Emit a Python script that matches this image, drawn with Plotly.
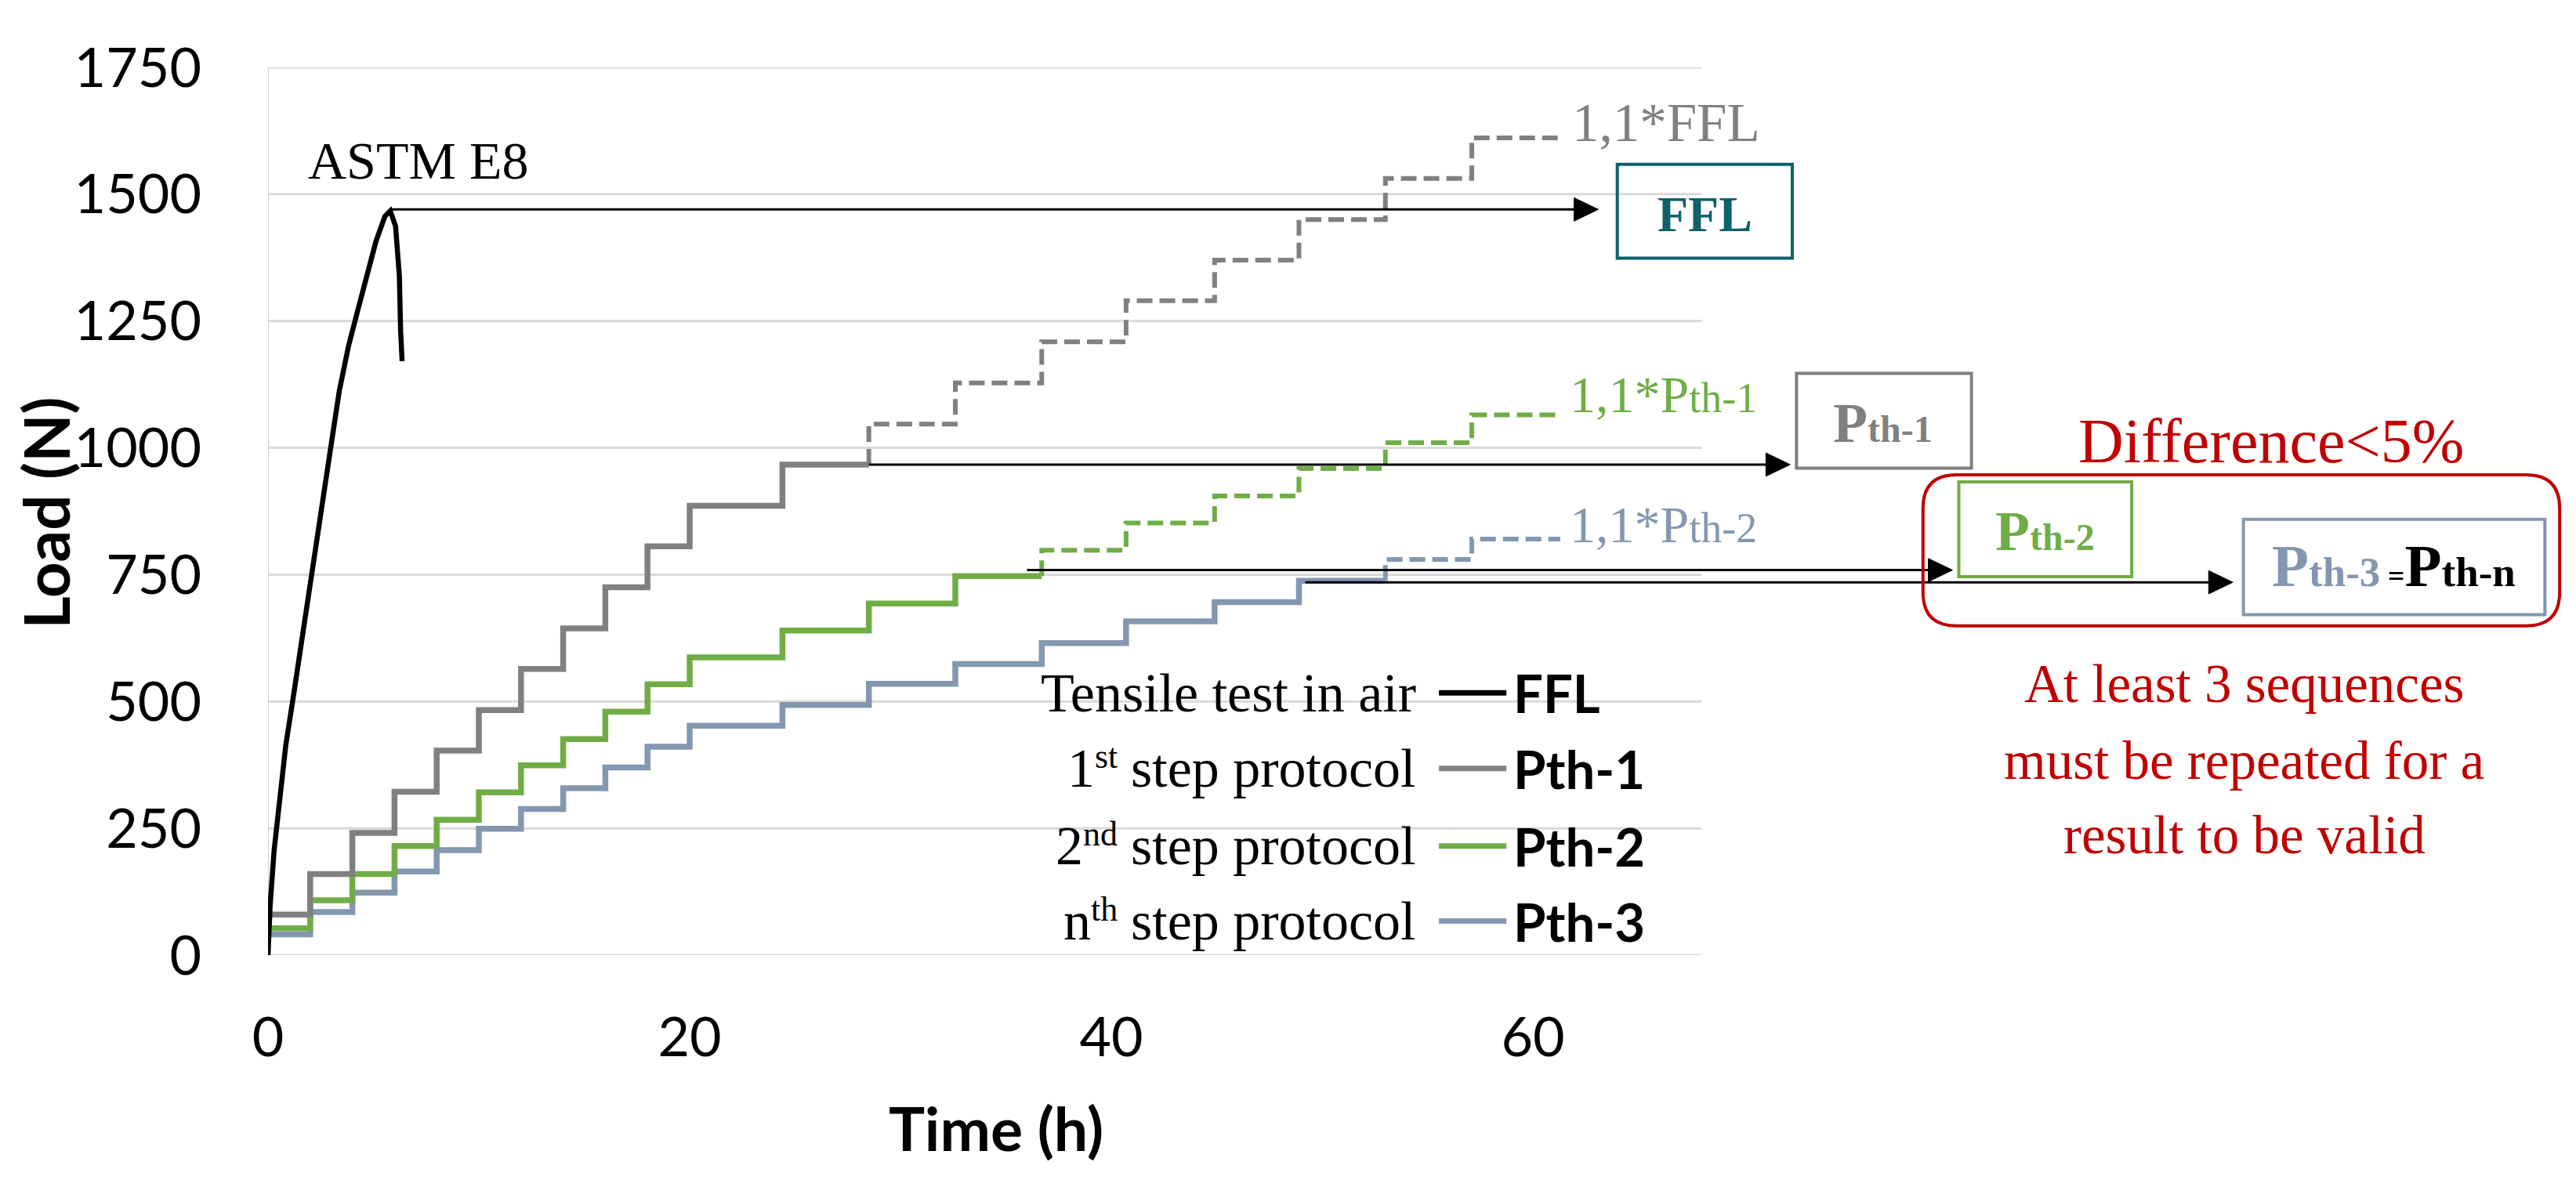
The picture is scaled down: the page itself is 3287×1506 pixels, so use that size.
import plotly.graph_objects as go

# ---------------- data ----------------
step_times = [0, 2, 4, 6, 8, 10, 12, 14, 16, 18, 20, 24.4, 28.5, 32.6, 36.7, 40.7, 44.9, 48.9, 53.0, 57.1]
step_end = 61.3

pth1_levels = [80, 160, 241, 322, 403, 483, 564, 644, 725, 806, 886, 967,
               1047, 1128, 1209, 1290, 1370, 1450, 1531, 1611]
pth2_levels = [53, 108, 160, 215, 267, 321, 374, 426, 480, 534, 587, 640,
               693, 747, 798, 852, 905, 959, 1010, 1065]
pth3_levels = [41, 85, 123, 165, 207, 249, 288, 329, 370, 411, 452, 493,
               535, 574, 615, 658, 696, 738, 780, 820]
pth1_solid_n = 12
pth2_solid_n = 14
pth3_solid_n = 18

astm_time = [0, 0.1, 0.29, 0.53, 0.84, 1.21, 1.65, 2.08, 2.52, 2.95, 3.38, 3.82,
             4.25, 4.68, 5.12, 5.55, 5.8, 6.05, 6.23, 6.29, 6.36]
astm_load = [0, 98, 207, 305, 413, 512, 630, 748, 866, 994, 1112, 1201,
             1270, 1339, 1407, 1457, 1467, 1437, 1339, 1230, 1171]

y_ticks = [0, 250, 500, 750, 1000, 1250, 1500, 1750]
x_ticks = [0, 20, 40, 60]

legend_names = ["FFL", "Pth-1", "Pth-2", "Pth-3"]
legend_prefix = ["1", "2", "n"]          # ordinal number of the step rows
legend_suffix = ["st", "nd", "th"]       # superscript ordinal suffix
legend_suffix_em = [0.667, 1.0, 0.778]   # Times-metric widths of the suffixes

# arrows: (tail time, tip time, load level)
arrow_tail = [5.8, 28.5, 36.0, 49.2]
arrow_tip = [63.1, 72.2, 79.9, 93.2]
arrow_load = [1470, 967, 759, 735]

# ---------------- styles ----------------
C_BLACK = "#000000"
C_GRAY = "#808080"
C_GREEN = "#70AD47"
C_BLUE = "#8497B0"
C_TEAL = "#0E6168"
C_RED = "#C00000"
SERIF = "Liberation Serif"
SANS = "Lato"

X_MAX = 109.14      # extended range so the side boxes live in data space
GRID_END = 68.0     # visible chart area ends here
PX_PER_H = 26.9     # horizontal scale of the plot (px per hour)
HEAD_LEN = 1.15     # arrow head length (h)
HEAD_HALF = 23      # arrow head half height (N)

fig = go.Figure()


def step_parts(levels, n_solid):
    xs = step_times[:n_solid] + [step_times[n_solid]]
    ys = levels[:n_solid] + [levels[n_solid - 1]]
    xd = [step_times[n_solid]] + step_times[n_solid:] + [step_end]
    yd = [levels[n_solid - 1]] + levels[n_solid:] + [levels[-1]]
    return xs, ys, xd, yd


for levels, n_solid, color, name in [
    (pth3_levels, pth3_solid_n, C_BLUE, "Pth-3"),
    (pth2_levels, pth2_solid_n, C_GREEN, "Pth-2"),
    (pth1_levels, pth1_solid_n, C_GRAY, "Pth-1"),
]:
    xs, ys, xd, yd = step_parts(levels, n_solid)
    fig.add_trace(go.Scatter(x=xs, y=ys, mode="lines", name=name, showlegend=False,
                             line=dict(shape="hv", color=color, width=7.5)))
    fig.add_trace(go.Scatter(x=xd, y=yd, mode="lines", name="1,1*" + name, showlegend=False,
                             line=dict(shape="hv", color=color, width=6, dash="20px,9px")))

fig.add_trace(go.Scatter(x=astm_time, y=astm_load, mode="lines", name="FFL", showlegend=False,
                         line=dict(color=C_BLACK, width=6.5)))

shapes = []
# horizontal gridlines
for v in y_ticks:
    shapes.append(dict(type="line", xref="x", yref="y", x0=0, x1=GRID_END, y0=v, y1=v,
                       line=dict(color="#D9D9D9", width=3), layer="below"))
# vertical axis line
shapes.append(dict(type="line", xref="x", yref="y", x0=0, x1=0, y0=0, y1=y_ticks[-1],
                   line=dict(color="#CFCFCF", width=2), layer="below"))

# legend samples
legend_rows = [517, 368, 215, 67]
legend_colors = [C_BLACK, C_GRAY, C_GREEN, C_BLUE]
for yv, col in zip(legend_rows, legend_colors):
    shapes.append(dict(type="line", xref="x", yref="y", x0=55.54, x1=58.74, y0=yv, y1=yv,
                       line=dict(color=col, width=7)))

# arrows (shaft + filled head)
for tx, hx, yv in zip(arrow_tail, arrow_tip, arrow_load):
    shapes.append(dict(type="line", xref="x", yref="y", x0=tx, x1=hx - HEAD_LEN * 0.5, y0=yv, y1=yv,
                       line=dict(color=C_BLACK, width=3)))
    shapes.append(dict(type="path", xref="x", yref="y",
                       path=f"M {hx},{yv} L {hx - HEAD_LEN},{yv + HEAD_HALF} L {hx - HEAD_LEN},{yv - HEAD_HALF} Z",
                       fillcolor=C_BLACK, line=dict(color=C_BLACK, width=1)))

# boxes
shapes.append(dict(type="rect", xref="x", yref="y", x0=64.0, x1=72.3, y0=1374, y1=1559,
                   line=dict(color=C_TEAL, width=4)))
shapes.append(dict(type="rect", xref="x", yref="y", x0=72.5, x1=80.8, y0=960, y1=1147,
                   line=dict(color=C_GRAY, width=4)))
shapes.append(dict(type="rect", xref="x", yref="y", x0=80.2, x1=88.4, y0=746, y1=933,
                   line=dict(color=C_GREEN, width=4)))
shapes.append(dict(type="rect", xref="x", yref="y", x0=93.7, x1=108.0, y0=671, y1=859,
                   line=dict(color=C_BLUE, width=4)))
# rounded red box
x0, x1, y0, y1, rx, ry = 78.5, 108.7, 649, 947, 1.6, 66
path = (f"M {x0+rx},{y0} L {x1-rx},{y0} Q {x1},{y0} {x1},{y0+ry} L {x1},{y1-ry} "
        f"Q {x1},{y1} {x1-rx},{y1} L {x0+rx},{y1} Q {x0},{y1} {x0},{y1-ry} "
        f"L {x0},{y0+ry} Q {x0},{y0} {x0+rx},{y0} Z")
shapes.append(dict(type="path", xref="x", yref="y", path=path, line=dict(color=C_RED, width=4)))

ann = []


def txt(x, y, text, size, color, family=SERIF, xanchor="left", weight="normal", **kw):
    d = dict(x=x, y=y, xref="x", yref="y", text=text, showarrow=False, xanchor=xanchor,
             yanchor="middle", borderpad=0, borderwidth=0,
             font=dict(family=family, size=size, color=color, weight=weight))
    d.update(kw)
    ann.append(d)


txt(1.9, 1566, "ASTM E8", 68, C_BLACK)
txt(61.85, 1641, "1,1*FFL", 69, C_GRAY)
txt(61.75, 1105, '1,1*P<span style="font-size:54px">th-1</span>', 66, C_GREEN)
txt(61.75, 848, '1,1*P<span style="font-size:54px">th-2</span>', 66, C_BLUE)

txt(68.15, 1461, "FFL", 64, C_TEAL, xanchor="center", weight="bold")
txt(76.6, 1049, 'P<span style="font-size:48px">th-1</span>', 72, C_GRAY, xanchor="center", weight="bold")
txt(84.3, 835, 'P<span style="font-size:48px">th-2</span>', 72, C_GREEN, xanchor="center", weight="bold")
txt(100.85, 768,
    '<span style="color:#8497B0">P</span><span style="color:#8497B0;font-size:53px">th-3</span>'
    '<span style="font-size:38px"> =</span>P<span style="font-size:53px">th-n</span>',
    77, C_BLACK, xanchor="center", weight="bold")

txt(95.02, 1014, "Difference&lt;5%", 80, C_RED, xanchor="center")
txt(93.75, 534, "At least 3 sequences", 69, C_RED, xanchor="center")
txt(93.75, 383, "must be repeated for a", 69, C_RED, xanchor="center")
txt(93.75, 236, "result to be valid", 69, C_RED, xanchor="center")

# legend texts
LEG_RIGHT = 54.46
LEG_FS = 70
SUP_FS = 44
txt(LEG_RIGHT, legend_rows[0], "Tensile test in air", LEG_FS, C_BLACK, xanchor="right")
main_w = 5.194 * LEG_FS / PX_PER_H          # width of "step protocol" in hours
space_w = 0.25 * LEG_FS / PX_PER_H
main_left = LEG_RIGHT - main_w
for i in range(3):
    yv = legend_rows[i + 1]
    txt(LEG_RIGHT, yv, "step protocol", LEG_FS, C_BLACK, xanchor="right")
    sup_right = main_left - space_w
    txt(sup_right, yv + 23, legend_suffix[i], SUP_FS, C_BLACK, xanchor="right")
    pre_right = sup_right - legend_suffix_em[i] * SUP_FS / PX_PER_H
    txt(pre_right, yv, legend_prefix[i], LEG_FS, C_BLACK, xanchor="right")
for yv, name in zip(legend_rows, legend_names):
    txt(59.05, yv, name, 67, C_BLACK, family=SANS, weight="bold")

# axis titles
ann.append(dict(x=-0.0967, y=0.498, xref="paper", yref="paper", text="Load (N)",
                textangle=-90, showarrow=False, xanchor="center", yanchor="middle",
                font=dict(family=SANS, size=80, color=C_BLACK, weight="bold")))
ann.append(dict(x=0.3164, y=-0.194, xref="paper", yref="paper", text="Time (h)",
                showarrow=False, xanchor="center", yanchor="middle",
                font=dict(family=SANS, size=77, color=C_BLACK, weight="bold")))

fig.update_layout(
    width=3287, height=1506,
    margin=dict(l=334, r=17, t=78, b=295),
    plot_bgcolor="white", paper_bgcolor="white",
    showlegend=False,
    shapes=shapes, annotations=ann,
    xaxis=dict(range=[0, X_MAX], tickvals=x_ticks, showgrid=False, zeroline=False,
               showline=False, ticks="", ticklabelstandoff=58,
               tickfont=dict(family=SANS, size=70, color=C_BLACK)),
    yaxis=dict(range=[0, 1750], tickvals=y_ticks, showgrid=False, zeroline=False,
               showline=False, ticks="", ticklabelstandoff=84,
               tickfont=dict(family=SANS, size=70, color=C_BLACK)),
)

fig.write_html("out.html")
